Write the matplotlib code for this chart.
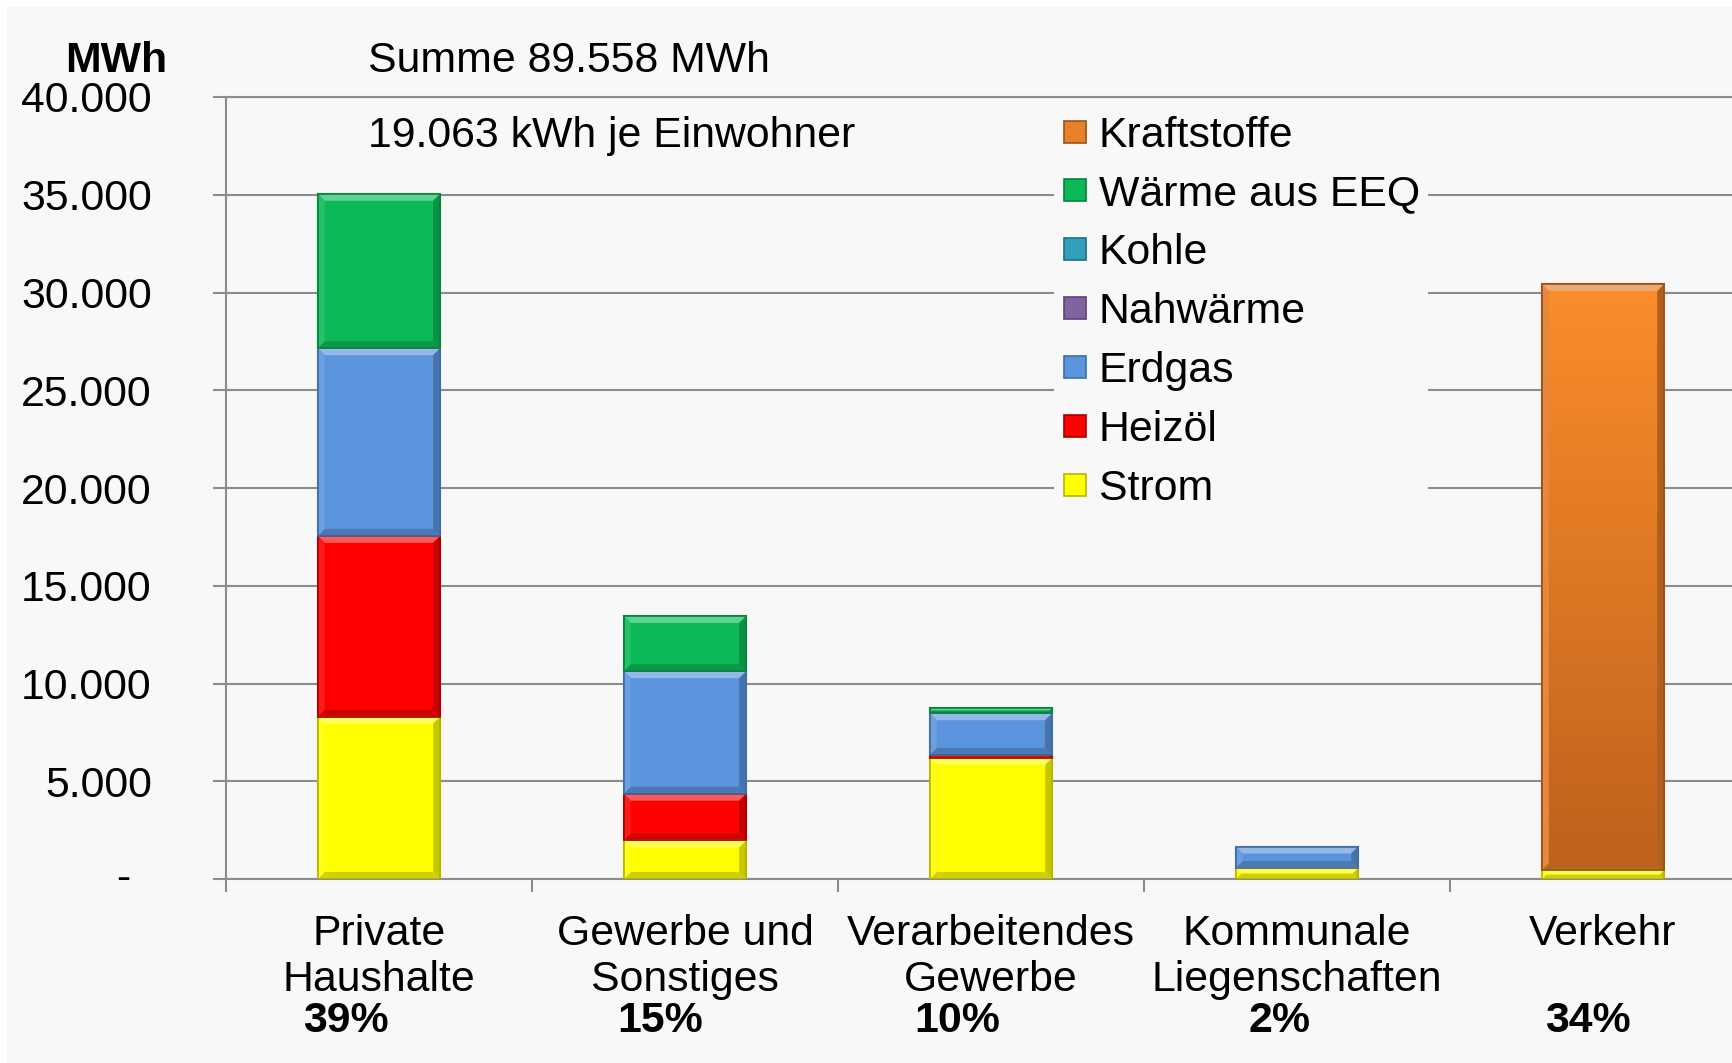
import matplotlib
matplotlib.use('Agg')
import matplotlib.pyplot as plt
import numpy as np
from matplotlib.patches import Rectangle, Polygon
from matplotlib.transforms import blended_transform_factory
from matplotlib.lines import Line2D
from matplotlib.colors import LinearSegmentedColormap, to_rgb

plt.rcParams['font.family'] = ['Liberation Sans', 'DejaVu Sans']

# ---------------- data ----------------
categories = ['Private\nHaushalte', 'Gewerbe und\nSonstiges', 'Verarbeitendes\nGewerbe',
              'Kommunale\nLiegenschaften', 'Verkehr']
shares = ['39%', '15%', '10%', '2%', '34%']
strom = [8300, 1970, 6200, 560, 450]
heizoel = [9250, 2390, 150, 0, 0]
erdgas = [9600, 6270, 2130, 1100, 0]
nahwaerme = [0, 0, 0, 0, 0]
kohle = [0, 0, 0, 0, 0]
waerme_eeq = [7900, 2820, 270, 0, 0]
kraftstoffe = [0, 0, 0, 0, 29980]
series_names = ['Strom', 'Heizöl', 'Erdgas', 'Nahwärme', 'Kohle', 'Wärme aus EEQ', 'Kraftstoffe']
yticks = [0, 5000, 10000, 15000, 20000, 25000, 30000, 35000, 40000]
ytick_labels = ['', '5.000', '10.000', '15.000', '20.000', '25.000', '30.000', '35.000', '40.000']
zero_label = '-'
title_sum = 'Summe 89.558 MWh'
title_per = '19.063 kWh je Einwohner'
unit_label = 'MWh'

# ---------------- style ----------------
face_colors = ['#ffff00', '#ff0000', '#5a94dc', '#8064a2', '#31a0bb', '#0bba57', '#e8802a']
edge_colors = ['#b5b500', '#a80000', '#3e6ea8', '#5a4575', '#1f6f82', '#07843d', '#9a5018']
pct_dx = [-0.108, -0.08, -0.112, -0.058, -0.049]
bg = '#f8f8f8'
grid_c = '#8c8c8c'
FS = 30.8

W, H = 1732, 1063
fig = plt.figure(figsize=(W / 100, H / 100), dpi=100, facecolor='white')
fig.patches.append(Rectangle((7 / W, 0), 1, (H - 7) / H, transform=fig.transFigure,
                             facecolor=bg, edgecolor='none', zorder=-10))

ax_w_px, ax_h_px = 1530, 782
ax = fig.add_axes([226 / W, (H - 879) / H, ax_w_px / W, ax_h_px / H])
ax.set_facecolor('none')
YMAX = 40000
ax.set_xlim(-0.5, len(categories) - 0.5)
ax.set_ylim(0, YMAX)


def mix(c, other, t):
    c = np.array(to_rgb(c)); o = np.array(to_rgb(other))
    return tuple(c * (1 - t) + o * t)


def bevel(patch, fc, z):
    x0, y0 = patch.get_x(), patch.get_y()
    w, h = patch.get_width(), patch.get_height()
    bx = 7 * len(categories) / ax_w_px
    by_full = 7 * YMAX / ax_h_px
    by = min(by_full, h / 2.0)
    bxx = min(bx, by * bx / by_full) if by < by_full else bx
    x1, y1 = x0 + w, y0 + h
    pieces = [
        ([(x0, y1), (x1, y1), (x1 - bxx, y1 - by), (x0 + bxx, y1 - by)], mix(fc, 'white', 0.35)),
        ([(x0, y0), (x1, y0), (x1 - bxx, y0 + by), (x0 + bxx, y0 + by)], mix(fc, 'black', 0.18)),
        ([(x0, y0), (x0 + bxx, y0 + by), (x0 + bxx, y1 - by), (x0, y1)], mix(fc, 'white', 0.10)),
        ([(x1, y0), (x1 - bxx, y0 + by), (x1 - bxx, y1 - by), (x1, y1)], mix(fc, 'black', 0.22)),
    ]
    for pts, col in pieces:
        ax.add_patch(Polygon(pts, closed=True, facecolor=col, edgecolor='none', zorder=z))


series = [strom, heizoel, erdgas, nahwaerme, kohle, waerme_eeq, kraftstoffe]
x = np.arange(len(categories))
bottom = np.zeros(len(categories))
bar_w = 0.4
cmap = LinearSegmentedColormap.from_list('orng', ['#bf611c', '#fb8d2b'])
for name, vals, fc, ec in zip(series_names, series, face_colors, edge_colors):
    vals = np.array(vals, dtype=float)
    bars = ax.bar(x, vals, bar_w, bottom=bottom, color=fc, edgecolor=ec, linewidth=1.5,
                  zorder=3, label=name)
    for b, v in zip(bars, vals):
        if v == 0:
            b.set_visible(False)
            continue
        if name == 'Kraftstoffe':
            bx0, by0 = b.get_x(), b.get_y()
            grad = np.linspace(0, 1, 256).reshape(-1, 1)
            im = ax.imshow(grad, extent=(bx0, bx0 + b.get_width(), by0, by0 + b.get_height()),
                           origin='lower', cmap=cmap, aspect='auto', zorder=3.1)
            im.set_clip_path(b)
            bevel(b, '#e07b28', 3.2)
        else:
            bevel(b, fc, 3.2)
        ax.add_patch(Rectangle((b.get_x(), b.get_y()), b.get_width(), b.get_height(),
                               facecolor='none', edgecolor=ec, linewidth=1.2, zorder=3.3))
    bottom += vals

ax.set_xlim(-0.5, len(categories) - 0.5)
ax.set_ylim(0, YMAX)

# grid / spines
ax.set_yticks(yticks)
ax.set_yticklabels(ytick_labels)
ax.yaxis.grid(True, color=grid_c, linewidth=1.5, zorder=0)
ax.set_axisbelow(True)
ax.spines['right'].set_visible(False)
for s in ['left', 'bottom', 'top']:
    ax.spines[s].set_color(grid_c)
    ax.spines[s].set_linewidth(1.5)
ax.tick_params(axis='y', length=9.4, width=1.5, color=grid_c, pad=44, labelsize=FS)

ax.set_xticks(np.arange(-0.5, len(categories) + 0.5, 1.0))
ax.set_xticklabels([])
ax.set_xticks(x, minor=True)
ax.set_xticklabels(categories, minor=True)
ax.tick_params(axis='x', which='major', length=9.4, width=1.5, color=grid_c)
ax.tick_params(axis='x', which='minor', length=0, pad=25, labelsize=FS)
for lbl in ax.get_xticklabels(minor=True):
    lbl.set_linespacing(1.2)

# zero label
bt = blended_transform_factory(ax.transAxes, ax.transData)
ax.text(-(226 - 123) / ax_w_px, 0, zero_label, transform=bt, ha='center', va='center', fontsize=FS)

# percentages
pt = blended_transform_factory(ax.transData, fig.transFigure)
for xi, s, dx in zip(x, shares, pct_dx):
    ax.text(xi + dx, 1 - 1020.5 / H, s, transform=pt, ha='center', va='center',
            fontsize=FS, fontweight='bold')

# header texts
fig.text(116 / W, 1 - 61.5 / H, unit_label, ha='center', va='center', fontsize=FS, fontweight='bold')
fig.text(368 / W, 1 - 61.5 / H, title_sum, ha='left', va='center', fontsize=FS)
fig.text(368 / W, 1 - 135.5 / H, title_per, ha='left', va='center', fontsize=FS)

# legend
handles = [Line2D([0], [0], marker='s', linestyle='none', markersize=15.5,
                  markerfacecolor=fc, markeredgecolor=ec, markeredgewidth=1.2)
           for fc, ec in zip(face_colors, edge_colors)]
leg = ax.legend(handles[::-1], series_names[::-1], loc='center',
                bbox_to_anchor=(0.6635, 0.725), bbox_transform=ax.transAxes,
                fontsize=FS, frameon=True, facecolor=bg, edgecolor='none', framealpha=1,
                handlelength=0.6, handletextpad=0.25, labelspacing=0.44, borderpad=0.2,
                fancybox=False)
leg.set_zorder(10)

fig.savefig('out.png', dpi=100, facecolor='white')
